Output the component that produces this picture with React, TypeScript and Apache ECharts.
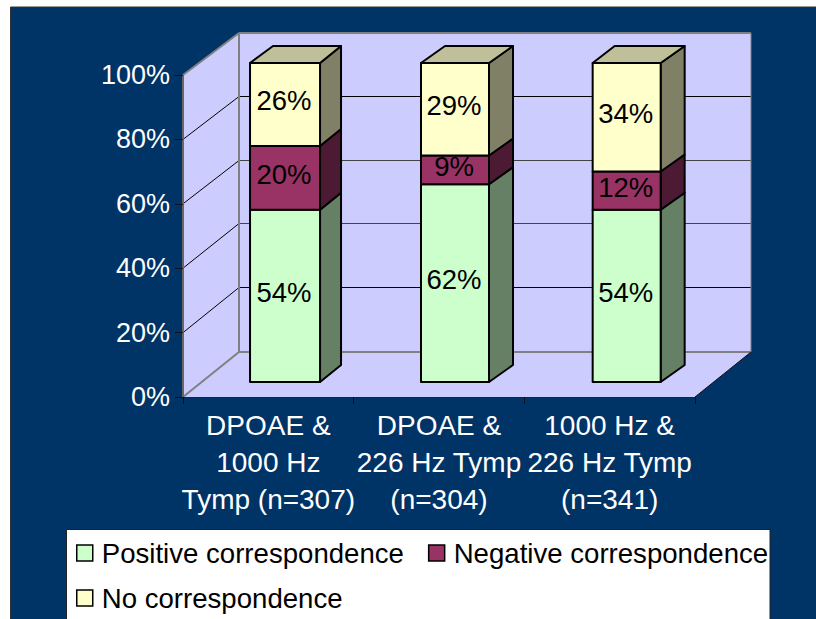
import React, { useEffect, useRef } from "react";
import * as echarts from "echarts";

const categories = ["DPOAE &\n1000 Hz\nTymp (n=307)", "DPOAE &\n226 Hz Tymp\n(n=304)", "1000 Hz &\n226 Hz Tymp\n(n=341)"];
const positive = [54, 62, 54];
const negative = [20, 9, 12];
const none = [26, 29, 34];
const seriesNames = ["Positive correspondence", "Negative correspondence", "No correspondence"];
const yTicks = [20, 40, 60, 80];

const FONT = "Liberation Sans";
const FS = 27.5;
const FS_WIDE = 28;
const GREEN = "#CCFFCC", MAROON = "#993366", YELLOW = "#FFFFCC";
const palette = [
  { front: GREEN, side: "#668066" },
  { front: MAROON, side: "#4D1A33" },
  { front: YELLOW, side: "#808066", top: "#BFBF99" },
];
// 3-D projection layout
const barOffset = [-18.3, -18, -17];
const barWidth = [70, 68, 68];
const sideDx = [21, 24, 24];
const backLeftDx = [23, 24, 22];
const DEPTH_DY = 17;
const BAR_BOTTOM_LIFT = 15;
const SCALE = 319 / 322;
const WALL_DX = 56;
const WALL_DY = 45;

function barSeries(level: number, values: number[], bases: number[]) {
  const colors = palette[level];
  return {
    type: "custom",
    name: seriesNames[level],
    z: 4,
    clip: false,
    data: values.map((v, i) => [i, bases[i], bases[i] + v, v]),
    encode: { x: 0, y: 2 },
    renderItem: (params: any, api: any) => {
      const i = api.value(0);
      const c0 = api.coord([i, api.value(1)]);
      const c1 = api.coord([i, api.value(2)]);
      const zero = api.coord([i, 0]);
      const f = (y: number) => zero[1] - BAR_BOTTOM_LIFT - (zero[1] - y) * SCALE;
      const xL = c0[0] + barOffset[i];
      const xR = xL + barWidth[i];
      const xS = xR + sideDx[i];
      const xB = xL + backLeftDx[i];
      const yb = f(c0[1]);
      const yt = f(c1[1]);
      const stroke = { stroke: "#000", lineWidth: 2, lineJoin: "round" };
      const children: any[] = [
        {
          type: "polygon",
          shape: { points: [[xR, yt], [xS, yt - DEPTH_DY], [xS, yb - DEPTH_DY], [xR, yb]] },
          style: { fill: colors.side, ...stroke },
        },
        { type: "rect", shape: { x: xL, y: yt, width: xR - xL, height: yb - yt }, style: { fill: colors.front, ...stroke } },
      ];
      if (colors.top) {
        children.push({
          type: "polygon",
          shape: { points: [[xL, yt], [xB, yt - DEPTH_DY], [xS, yt - DEPTH_DY], [xR, yt]] },
          style: { fill: colors.top, ...stroke },
        });
      }
      children.push({
        type: "text",
        z2: 10,
        style: {
          text: api.value(3) + "%",
          x: (xL + xR) / 2 - 1,
          y: (yt + yb) / 2 - 3.5,
          align: "center",
          verticalAlign: "middle",
          fontSize: FS,
          fontFamily: FONT,
          fill: "#000",
        },
      });
      return { type: "group", children };
    },
  };
}

const wallSeries = {
  type: "custom",
  name: "walls",
  z: 1,
  clip: false,
  silent: true,
  data: [[0, 0]],
  encode: { x: 0, y: 1 },
  renderItem: (params: any, api: any) => {
    const { x, y, width, height } = params.coordSys;
    const bottom = y + height;
    const back = (yy: number) => bottom - WALL_DY - (bottom - yy) * SCALE;
    const wall = "#CCCCFF";
    const gray = "#808080";
    const xb = x + WALL_DX;
    const xr = x + width;
    const children: any[] = [
      { type: "polygon", shape: { points: [[x, y], [xb, back(y)], [xb, back(bottom)], [x, bottom]] }, style: { fill: wall } },
      { type: "rect", shape: { x: xb, y: back(y), width: width, height: back(bottom) - back(y) }, style: { fill: wall } },
      { type: "polygon", shape: { points: [[x, bottom], [xb, back(bottom)], [xr + WALL_DX, back(bottom)], [xr, bottom]] }, style: { fill: wall } },
    ];
    yTicks.forEach((t) => {
      const yy = api.coord([0, t])[1];
      const by = Math.round(back(yy)) - 0.5;
      children.push({ type: "line", shape: { x1: x, y1: yy, x2: xb, y2: by }, style: { stroke: "#000", lineWidth: 1 } });
      children.push({ type: "line", shape: { x1: xb, y1: by, x2: xb + width, y2: by }, style: { stroke: t === 40 || t === 60 ? "#444" : "#000", lineWidth: 1 } });
    });
    const edge = (a: number[], b: number[], c = gray, w = 2) =>
      children.push({ type: "line", shape: { x1: a[0], y1: a[1], x2: b[0], y2: b[1] }, style: { stroke: c, lineWidth: w } });
    edge([x, y], [xb, back(y)]);
    edge([xb, back(y)], [xb + width, back(y)]);
    edge([xb, back(y)], [xb, back(bottom)]);
    edge([xb, back(bottom)], [xb + width, back(bottom)]);
    edge([x, bottom], [xb, back(bottom)]);
    edge([xb + width, back(y)], [xb + width, back(bottom)], gray, 1);
    edge([xr, bottom], [xr + WALL_DX, back(bottom)], "#111", 1);
    return { type: "group", children };
  },
};

export default function App() {
  const ref = useRef<HTMLDivElement>(null);
  useEffect(() => {
    document.body.style.margin = "0";
    const chart = echarts.init(ref.current!, undefined, { renderer: "svg" });
    const base2 = positive.map((v, i) => v + negative[i]);
    chart.setOption({
      animation: false,
      backgroundColor: "#fff",
      textStyle: { fontFamily: FONT },
      graphic: [
        {
          type: "rect",
          z: 0,
          silent: true,
          shape: { x: 10.5, y: 7, width: 900, height: 700 },
          style: { fill: "#003366", stroke: "#333", lineWidth: 1 },
        },
        {
          type: "rect",
          z: 1,
          silent: true,
          shape: { x: 66.5, y: 529.5, width: 703.5, height: 120 },
          style: { fill: "#fff", stroke: "#222", lineWidth: 1 },
        },
      ],
      grid: { left: 183, right: 121, top: 75, bottom: 222, containLabel: false },
      xAxis: {
        type: "category",
        data: categories,
        z: 3,
        axisLine: { lineStyle: { color: "#222", width: 1 } },
        axisTick: { show: true, alignWithLabel: false, length: 7, lineStyle: { color: "#111" } },
        axisLabel: { color: "#fff", fontSize: FS_WIDE, fontFamily: FONT, lineHeight: 37, margin: 10, interval: 0, hideOverlap: false },
      },
      yAxis: {
        type: "value",
        min: 0,
        max: 100,
        interval: 20,
        z: 3,
        splitLine: { show: false },
        axisLine: { show: true, lineStyle: { color: "#666", width: 2 } },
        axisTick: { show: true, length: 8, lineStyle: { color: "#111" } },
        axisLabel: { color: "#fff", fontSize: 27, fontFamily: FONT, formatter: "{value}%", margin: 13 },
      },
      legend: {
        show: true,
        left: 76,
        top: 539,
        width: 720,
        orient: "horizontal",
        itemGap: 17,
        itemWidth: 16,
        itemHeight: 16,
        padding: 0,
        icon: "rect",
        textStyle: { color: "#000", fontSize: 27.6, fontFamily: FONT, lineHeight: 24, padding: [0, 7, 4, 4] },
        data: seriesNames.map((name, i) => ({
          name,
          icon: "rect",
          itemStyle: { color: palette[i].front, borderColor: "#000", borderWidth: 1.5 },
        })),
      },
      series: [
        wallSeries,
        barSeries(0, positive, positive.map(() => 0)),
        barSeries(1, negative, positive),
        barSeries(2, none, base2),
      ],
    });
    return () => chart.dispose();
  }, []);
  return <div ref={ref} style={{ position: "absolute", left: 0, top: 0, width: 816, height: 619 }} />;
}
